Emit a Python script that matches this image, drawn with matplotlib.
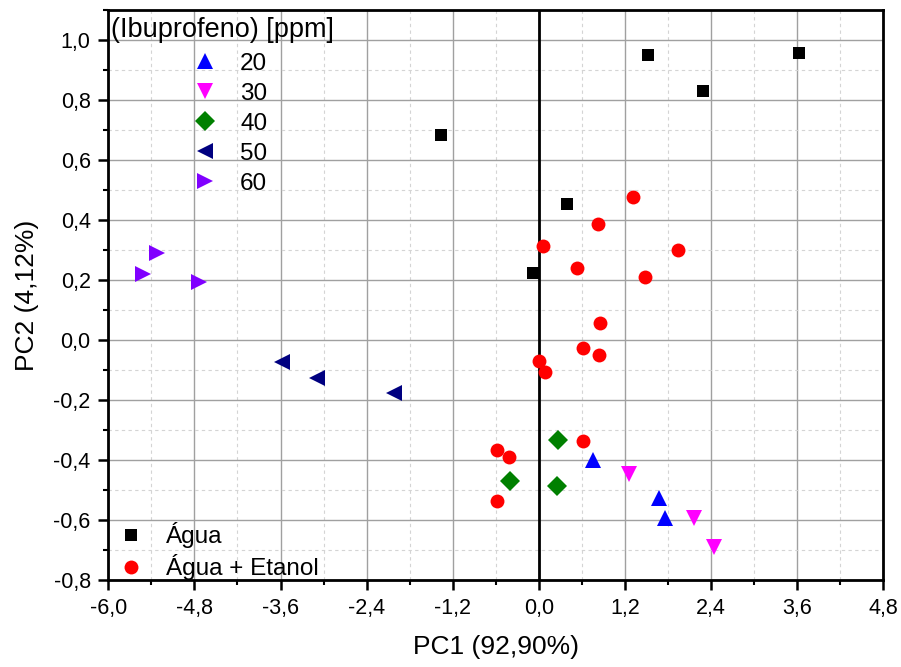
import matplotlib
matplotlib.use("Agg")
import matplotlib.pyplot as plt
from matplotlib.ticker import MultipleLocator, FuncFormatter

plt.rcParams['font.family'] = ['Liberation Sans', 'DejaVu Sans']

# scores
agua_x = [-1.37, 1.52, 2.29, 3.62, 0.39, -0.08]
agua_y = [0.684, 0.950, 0.830, 0.957, 0.453, 0.222]

etanol_x = [1.31, 0.83, 0.06, 1.94, 0.53, 1.48, 0.85, 0.61, 0.84, 0.00, 0.08, 0.62, -0.59, -0.42, -0.58]
etanol_y = [0.476, 0.388, 0.314, 0.301, 0.239, 0.209, 0.057, -0.027, -0.050, -0.070, -0.107, -0.337, -0.367, -0.390, -0.537]

conc_labels = ['20', '30', '40', '50', '60']
conc_x = [[0.75, 1.68, 1.76],
          [1.25, 2.16, 2.44],
          [0.26, -0.40, 0.25],
          [-3.58, -3.09, -2.02],
          [-5.32, -5.52, -4.74]]
conc_y = [[-0.400, -0.528, -0.594],
          [-0.448, -0.594, -0.689],
          [-0.333, -0.469, -0.486],
          [-0.074, -0.126, -0.176],
          [0.289, 0.220, 0.194]]
conc_markers = ['^', 'v', 'D', '<', '>']
conc_colors = ['#0000FF', '#FF00FF', '#008000', '#000080', '#8000FF']
conc_sizes = [11.5, 11.5, 10, 11.5, 11.5]

fig = plt.figure(figsize=(9.01, 6.67), dpi=100)
ax = fig.add_axes([0.1202, 0.1304, 0.8602, 0.8546])

# grid first so the marks sit on top
ax.set_axisbelow(True)
ax.grid(which='major', color='#a0a0a0', linewidth=1.0, linestyle='-')
ax.grid(which='minor', color='#d4d4d4', linewidth=0.8, linestyle=(0, (3, 3)))
ax.axvline(0, color='black', linewidth=2, zorder=2)

conc_handles = []
for xs, ys, m, c, s, lab in zip(conc_x, conc_y, conc_markers, conc_colors, conc_sizes, conc_labels):
    h, = ax.plot(xs, ys, linestyle='none', marker=m, color=c, markersize=s, markeredgewidth=0, label=lab, zorder=3)
    conc_handles.append(h)

h_agua, = ax.plot(agua_x, agua_y, linestyle='none', marker='s', color='black', markersize=9, markeredgewidth=0, label='Água', zorder=3)
h_et, = ax.plot(etanol_x, etanol_y, linestyle='none', marker='o', color='#FF0000', markersize=10, markeredgewidth=0, label='Água + Etanol', zorder=3)

ax.set_xlim(-6.0, 4.8)
ax.set_ylim(-0.8, 1.1)
ax.xaxis.set_major_locator(MultipleLocator(1.2))
ax.xaxis.set_minor_locator(MultipleLocator(0.6))
ax.yaxis.set_major_locator(MultipleLocator(0.2))
ax.yaxis.set_minor_locator(MultipleLocator(0.1))

comma = FuncFormatter(lambda v, pos: ('%.1f' % v).replace('-0.0', '0.0').replace('.', ','))
ax.xaxis.set_major_formatter(comma)
ax.yaxis.set_major_formatter(comma)

ax.tick_params(which='major', direction='out', length=7.2, width=1.8, labelsize=15.5, colors='black', pad=5.5)
ax.tick_params(which='minor', direction='out', length=3.8, width=1.5)
ax.tick_params(top=False, right=False, which='both')
for sp in ax.spines.values():
    sp.set_linewidth(2)
    sp.set_color('black')

ax.set_xlabel('PC1 (92,90%)', fontsize=19, labelpad=12)
ax.set_ylabel('PC2 (4,12%)', fontsize=19, labelpad=10.5)

# legends
ax.text(0.0035, 0.953, '(Ibuprofeno) [ppm]', transform=ax.transAxes, fontsize=19.5, va='baseline', ha='left')
leg1 = ax.legend(handles=conc_handles, loc='upper left', bbox_to_anchor=(0.109, 0.925), frameon=False,
                 fontsize=17.5, handlelength=1.0, handletextpad=0.95, labelspacing=0.33,
                 borderaxespad=0, borderpad=0)
ax.add_artist(leg1)
ax.legend(handles=[h_agua, h_et], loc='lower left', bbox_to_anchor=(0.0138, 0.0), frameon=False,
          fontsize=17.5, handlelength=1.0, handletextpad=0.95, labelspacing=0.23,
          borderaxespad=0, borderpad=0)

fig.savefig('out.png', dpi=100)
